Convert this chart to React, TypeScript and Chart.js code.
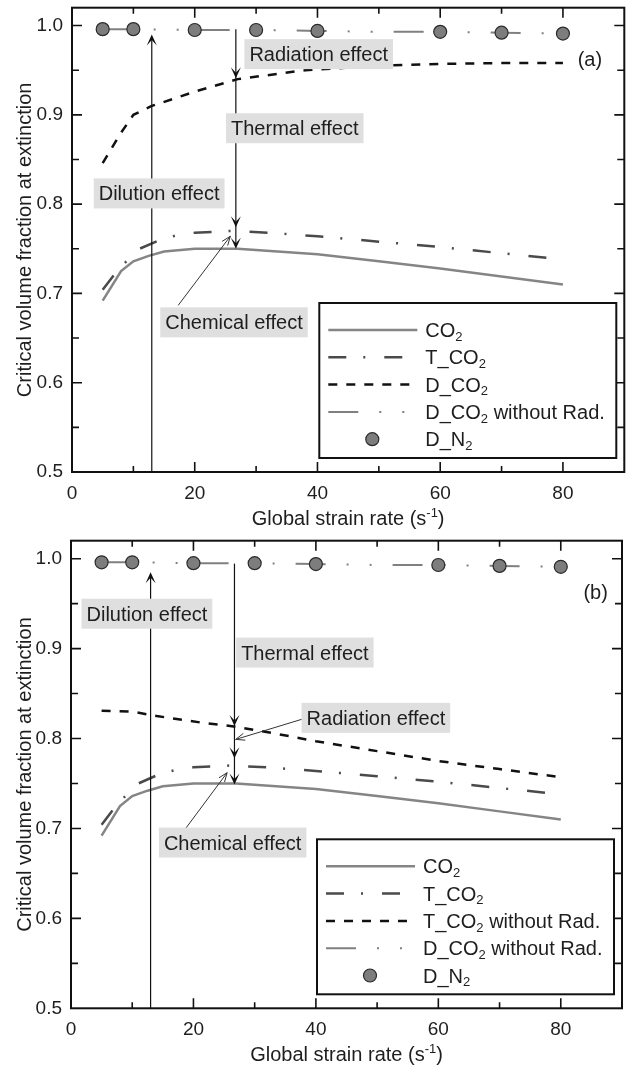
import React, { useEffect, useRef } from "react";
import { Chart, registerables } from "chart.js";

Chart.register(...registerables);

const FONT = '"Liberation Sans", Arial, Helvetica, sans-serif';
const W = 632;
const H = 533;

// ---------- data ----------
const co2X = [5, 8, 10, 12.5, 15, 20, 27, 40, 50, 60, 70, 80];
const co2Y = [0.692, 0.725, 0.736, 0.742, 0.747, 0.75, 0.75, 0.744, 0.736, 0.728, 0.719, 0.71];

const tco2X = [5, 7, 9, 11, 14, 17, 20, 26, 32, 40, 50, 60, 70, 80];
const tco2Y = [0.704, 0.722, 0.737, 0.75, 0.759, 0.765, 0.768, 0.77, 0.768, 0.764, 0.758, 0.752, 0.745, 0.738];

const dco2X = [5, 8, 10, 13, 17, 20, 27, 38, 50, 60, 70, 80];
const dco2Y = [0.846, 0.88, 0.9, 0.91, 0.919, 0.926, 0.94, 0.95, 0.955, 0.957, 0.958, 0.958];

const tco2NoRadX = [5, 10, 14, 22, 26, 33, 40, 50, 60, 70, 80];
const tco2NoRadY = [0.831, 0.83, 0.825, 0.817, 0.814, 0.806, 0.797, 0.786, 0.775, 0.766, 0.757];

const dco2NoRadX = [5, 10, 20, 30, 40, 50, 60, 70, 80];
const dco2NoRadY = [0.996, 0.996, 0.995, 0.995, 0.994, 0.993, 0.993, 0.992, 0.991];

const dn2X = [5, 10, 20, 30, 40, 60, 70, 80];
const dn2Y = [0.996, 0.996, 0.995, 0.995, 0.994, 0.993, 0.992, 0.991];

const xTickLabels = [0, 20, 40, 60, 80];
const yTickLabels = [0.5, 0.6, 0.7, 0.8, 0.9, 1.0];

const xTitle = "Global strain rate (s⁻¹)";
const yTitle = "Critical volume fraction at extinction";

// ---------- series styles ----------
type Series = {
  label: string;
  xs: number[];
  ys: number[];
  color: string;
  width: number;
  dash: number[];
  marker?: boolean;
};

const sCO2: Series = { label: "CO₂", xs: co2X, ys: co2Y, color: "#858585", width: 2.5, dash: [] };
const sTCO2: Series = { label: "T_CO₂", xs: tco2X, ys: tco2Y, color: "#4a4a4a", width: 2.5, dash: [18, 17, 2, 19] };
const sDCO2: Series = { label: "D_CO₂", xs: dco2X, ys: dco2Y, color: "#111111", width: 2.5, dash: [9, 9] };
const sTCO2NoRad: Series = { label: "T_CO₂ without Rad.", xs: tco2NoRadX, ys: tco2NoRadY, color: "#111111", width: 2.5, dash: [9, 9] };
const sDCO2NoRad: Series = { label: "D_CO₂ without Rad.", xs: dco2NoRadX, ys: dco2NoRadY, color: "#808080", width: 2, dash: [30, 21, 2, 21, 2, 21] };
const sDN2: Series = { label: "D_N₂", xs: dn2X, ys: dn2Y, color: "#2a2a2a", width: 1.2, dash: [], marker: true };

type Label = { text: string; x: number; y: number };
type Leader = { x0: number; y0: number; x1: number; y1: number };
type PanelCfg = {
  tag: string;
  tagX: number;
  tagY: number;
  plot: { top: number; bottom: number; left: number; right: number };
  drawOrder: Series[];
  legend: Series[];
  labels: Label[];
  upArrow: { x: number; y0: number; y1: number };
  downLine: { x: number; y0: number; heads: number[] };
  leaders: Leader[];
};

const panelA: PanelCfg = {
  tag: "(a)",
  tagX: 84.4,
  tagY: 0.963,
  plot: { top: 5, bottom: 472, left: 72, right: 625 },
  drawOrder: [sDN2, sDCO2NoRad, sDCO2, sTCO2, sCO2],
  legend: [sCO2, sTCO2, sDCO2, sDCO2NoRad, sDN2],
  labels: [
    { text: "Radiation effect", x: 40.2, y: 0.968 },
    { text: "Thermal effect", x: 36.3, y: 0.885 },
    { text: "Dilution effect", x: 14.2, y: 0.812 },
    { text: "Chemical effect", x: 26.4, y: 0.6676 },
  ],
  upArrow: { x: 13, y0: 0.5, y1: 0.99 },
  downLine: { x: 26.7, y0: 0.996, heads: [0.941, 0.774, 0.75] },
  leaders: [{ x0: 17.3, y0: 0.6866, x1: 25.8, y1: 0.764 }],
};

const panelB: PanelCfg = {
  tag: "(b)",
  tagX: 85.7,
  tagY: 0.963,
  plot: { top: 5.3, bottom: 475.3, left: 71, right: 622 },
  drawOrder: [sDN2, sDCO2NoRad, sTCO2NoRad, sTCO2, sCO2],
  legend: [sCO2, sTCO2, sTCO2NoRad, sDCO2NoRad, sDN2],
  labels: [
    { text: "Dilution effect", x: 12.4, y: 0.9388 },
    { text: "Thermal effect", x: 38.2, y: 0.8956 },
    { text: "Radiation effect", x: 49.8, y: 0.823 },
    { text: "Chemical effect", x: 26.4, y: 0.6843 },
  ],
  upArrow: { x: 13, y0: 0.5, y1: 0.985 },
  downLine: { x: 26.7, y0: 0.9945, heads: [0.814, 0.778, 0.749] },
  leaders: [
    { x0: 37.7, y0: 0.8214, x1: 26.9, y1: 0.799 },
    { x0: 17.2, y0: 0.686, x1: 25.5, y1: 0.762 },
  ],
};

// ---------- drawing helpers ----------
const SUB: Record<string, string> = { "₂": "2" };
const SUP: Record<string, string> = { "⁻": "-", "¹": "1" };

function drawRich(ctx: CanvasRenderingContext2D, text: string, x: number, y: number, size: number, align: "left" | "center", color = "#1e1e1e") {
  const segs: { t: string; k: number }[] = [];
  let cur = "";
  let kind = 0;
  for (const ch of Array.from(text)) {
    const k = SUB[ch] ? 1 : SUP[ch] ? 2 : 0;
    const c = SUB[ch] || SUP[ch] || ch;
    if (k !== kind && cur) {
      segs.push({ t: cur, k: kind });
      cur = "";
    }
    kind = k;
    cur += c;
  }
  if (cur) segs.push({ t: cur, k: kind });
  const fontFor = (k: number) => `${k ? size * 0.65 : size}px ${FONT}`;
  let total = 0;
  for (const s of segs) {
    ctx.font = fontFor(s.k);
    total += ctx.measureText(s.t).width;
  }
  let cx = align === "center" ? x - total / 2 : x;
  const base = y + size * 0.35;
  ctx.save();
  ctx.fillStyle = color;
  ctx.textBaseline = "alphabetic";
  ctx.textAlign = "left";
  for (const s of segs) {
    ctx.font = fontFor(s.k);
    const by = s.k === 1 ? base + size * 0.18 : s.k === 2 ? base - size * 0.4 : base;
    ctx.fillText(s.t, cx, by);
    cx += ctx.measureText(s.t).width;
  }
  ctx.restore();
}

function stealth(ctx: CanvasRenderingContext2D, tx: number, ty: number, dx: number, dy: number, len = 11, half = 5, notch = 0.5) {
  const px = -dy;
  const py = dx;
  const bx = tx - dx * len;
  const by = ty - dy * len;
  ctx.beginPath();
  ctx.moveTo(tx, ty);
  ctx.lineTo(bx + px * half, by + py * half);
  ctx.lineTo(tx - dx * len * notch, ty - dy * len * notch);
  ctx.lineTo(bx - px * half, by - py * half);
  ctx.closePath();
  ctx.fill();
}

function openHead(ctx: CanvasRenderingContext2D, tx: number, ty: number, dx: number, dy: number, len = 9, half = 3.5) {
  const px = -dy;
  const py = dx;
  const bx = tx - dx * len;
  const by = ty - dy * len;
  ctx.beginPath();
  ctx.moveTo(bx + px * half, by + py * half);
  ctx.lineTo(tx, ty);
  ctx.lineTo(bx - px * half, by - py * half);
  ctx.stroke();
}

function makePlugin(cfg: PanelCfg) {
  return {
    id: "paper",
    afterDraw(chart: any) {
      const ctx: CanvasRenderingContext2D = chart.ctx;
      const xs = chart.scales.x;
      const ys = chart.scales.y;
      const { left, right, top, bottom } = chart.chartArea;
      const X = (v: number) => xs.getPixelForValue(v);
      const Y = (v: number) => ys.getPixelForValue(v);
      ctx.save();

      // inward ticks
      ctx.strokeStyle = "#111";
      ctx.lineWidth = 1.6;
      ctx.beginPath();
      for (let i = 1; i < 9; i++) {
        const v = i * 10;
        const len = v % 20 === 0 ? 10 : 6;
        const px = X(v);
        ctx.moveTo(px, bottom);
        ctx.lineTo(px, bottom - len);
        ctx.moveTo(px, top);
        ctx.lineTo(px, top + len);
      }
      for (let i = 1; i <= 10; i++) {
        const v = 0.5 + i * 0.05;
        const len = i % 2 === 0 ? 10 : 7;
        const py = Y(v);
        ctx.moveTo(left, py);
        ctx.lineTo(left + len, py);
        ctx.moveTo(right, py);
        ctx.lineTo(right - len, py);
      }
      ctx.stroke();

      // frame
      ctx.lineWidth = 2;
      ctx.strokeRect(left, top, right - left, bottom - top);

      // dilution arrow (up)
      ctx.strokeStyle = "#111";
      ctx.fillStyle = "#111";
      ctx.lineWidth = 1.2;
      const ux = X(cfg.upArrow.x);
      ctx.beginPath();
      ctx.moveTo(ux, Y(cfg.upArrow.y0));
      ctx.lineTo(ux, Y(cfg.upArrow.y1) + 3);
      ctx.stroke();
      stealth(ctx, ux, Y(cfg.upArrow.y1), 0, -1);

      // thermal/radiation/chemical line (down)
      const dx = X(cfg.downLine.x);
      const last = cfg.downLine.heads[cfg.downLine.heads.length - 1];
      ctx.beginPath();
      ctx.moveTo(dx, Y(cfg.downLine.y0));
      ctx.lineTo(dx, Y(last) - 3);
      ctx.stroke();
      for (const h of cfg.downLine.heads) stealth(ctx, dx, Y(h), 0, 1);

      // leaders
      ctx.strokeStyle = "#333";
      ctx.lineWidth = 1;
      for (const l of cfg.leaders) {
        const x0 = X(l.x0), y0 = Y(l.y0), x1 = X(l.x1), y1 = Y(l.y1);
        ctx.beginPath();
        ctx.moveTo(x0, y0);
        ctx.lineTo(x1, y1);
        ctx.stroke();
        const d = Math.hypot(x1 - x0, y1 - y0);
        openHead(ctx, x1, y1, (x1 - x0) / d, (y1 - y0) / d);
      }

      // label boxes
      for (const lb of cfg.labels) {
        ctx.font = `20px ${FONT}`;
        const w = ctx.measureText(lb.text).width + 10;
        const hgt = 30;
        const cx = X(lb.x), cy = Y(lb.y);
        ctx.fillStyle = "#dfdfdf";
        ctx.fillRect(cx - w / 2, cy - hgt / 2, w, hgt);
        drawRich(ctx, lb.text, cx, cy, 20, "center");
      }

      // panel tag
      drawRich(ctx, cfg.tag, X(cfg.tagX), Y(cfg.tagY), 20, "center");

      // legend
      const lw = 297, lh = 155;
      const lx = right - 8 - lw;
      const ly = bottom - 14 - lh;
      ctx.fillStyle = "#ffffff";
      ctx.fillRect(lx, ly, lw, lh);
      ctx.strokeStyle = "#111";
      ctx.lineWidth = 2;
      ctx.strokeRect(lx, ly, lw, lh);
      cfg.legend.forEach((s, i) => {
        const ry = ly + 27 + i * 27.3;
        if (s.marker) {
          ctx.beginPath();
          ctx.arc(lx + 53, ry, 6.5, 0, Math.PI * 2);
          ctx.fillStyle = "#7d7d7d";
          ctx.fill();
          ctx.strokeStyle = s.color;
          ctx.lineWidth = s.width;
          ctx.stroke();
        } else {
          ctx.save();
          ctx.strokeStyle = s.color;
          ctx.lineWidth = s.width;
          ctx.setLineDash(s.dash);
          ctx.beginPath();
          ctx.moveTo(lx + 9, ry);
          ctx.lineTo(lx + 98, ry);
          ctx.stroke();
          ctx.restore();
        }
        drawRich(ctx, s.label, lx + 106, ry, 20, "left");
      });

      // x title
      drawRich(ctx, xTitle, (left + right) / 2, bottom + 46, 20, "center");
      ctx.restore();
    },
  };
}

function buildConfig(cfg: PanelCfg): any {
  const p = cfg.plot;
  return {
    type: "line",
    data: {
      datasets: cfg.drawOrder.map((s) => ({
        label: s.label,
        data: s.xs.map((x, i) => ({ x, y: s.ys[i] })),
        borderColor: s.color,
        borderWidth: s.width,
        borderDash: s.dash,
        showLine: !s.marker,
        pointRadius: s.marker ? 6.5 : 0,
        pointHoverRadius: s.marker ? 6.5 : 0,
        pointBackgroundColor: "#7d7d7d",
        pointBorderColor: "#2a2a2a",
        pointBorderWidth: 1.2,
        tension: 0,
        fill: false,
      })),
    },
    options: {
      responsive: false,
      animation: false,
      devicePixelRatio: 1,
      layout: { padding: { top: p.top, right: W - p.right, left: 0, bottom: 0 } },
      plugins: { legend: { display: false }, tooltip: { enabled: false } },
      scales: {
        x: {
          type: "linear",
          min: 0,
          max: 90,
          grid: { display: false, drawTicks: false },
          border: { display: false },
          ticks: { padding: 10, color: "#1e1e1e", font: { family: FONT, size: 19 }, callback: (v: any) => String(v) },
          afterBuildTicks: (s: any) => {
            s.ticks = xTickLabels.map((v) => ({ value: v }));
          },
          afterFit: (s: any) => {
            s.height = H - p.bottom;
            s.paddingLeft = 0;
            s.paddingRight = 0;
            s.paddingTop = 0;
            s.paddingBottom = 0;
          },
        },
        y: {
          type: "linear",
          min: 0.5,
          max: 1.02,
          grid: { display: false, drawTicks: false },
          border: { display: false },
          ticks: { padding: 9, color: "#1e1e1e", font: { family: FONT, size: 19 }, callback: (v: any) => Number(v).toFixed(1) },
          afterBuildTicks: (s: any) => {
            s.ticks = yTickLabels.map((v) => ({ value: v }));
          },
          afterFit: (s: any) => {
            s.width = p.left;
            s.paddingLeft = 0;
            s.paddingRight = 0;
            s.paddingTop = 0;
            s.paddingBottom = 0;
          },
          title: {
            display: true,
            text: yTitle,
            color: "#1e1e1e",
            font: { family: FONT, size: 20 },
            padding: { top: 13, bottom: 0 },
          },
        },
      },
    },
    plugins: [makePlugin(cfg)],
  };
}

function Panel({ cfg, top }: { cfg: PanelCfg; top: number }) {
  const ref = useRef<HTMLCanvasElement>(null);
  useEffect(() => {
    const chart = new Chart(ref.current as HTMLCanvasElement, buildConfig(cfg));
    return () => chart.destroy();
  }, [cfg]);
  return (
    <canvas
      ref={ref}
      width={W}
      height={H}
      style={{ position: "absolute", left: 0, top, width: W, height: H, display: "block" }}
    />
  );
}

export default function App() {
  useEffect(() => {
    document.body.style.margin = "0";
    document.body.style.background = "#ffffff";
  }, []);
  return (
    <div style={{ position: "relative", width: W, height: 1066, background: "#fff" }}>
      <Panel cfg={panelA} top={0} />
      <Panel cfg={panelB} top={533} />
    </div>
  );
}
